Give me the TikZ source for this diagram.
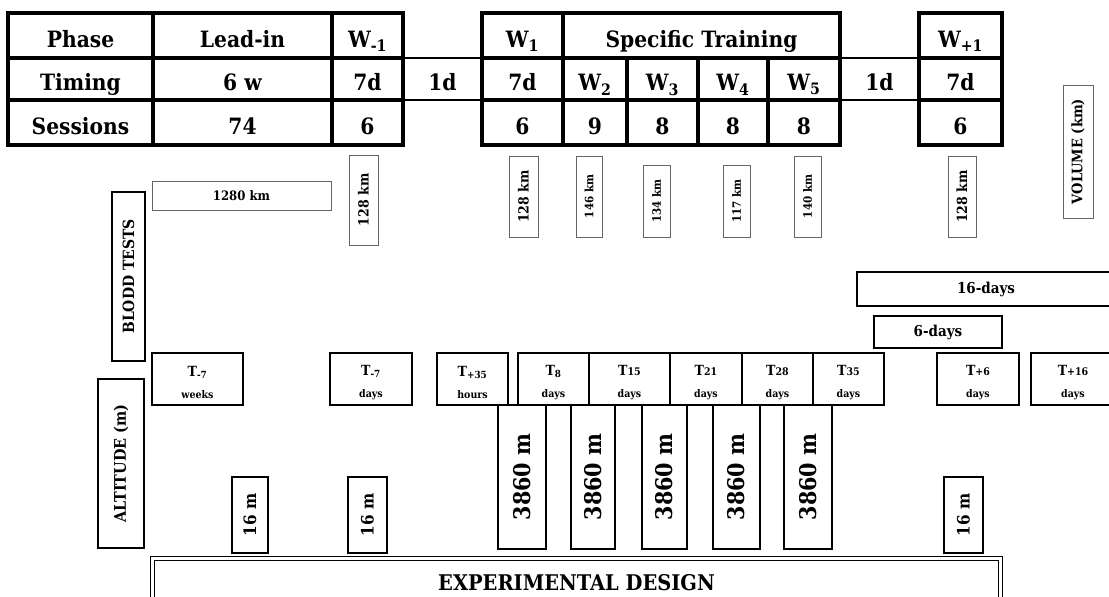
\documentclass[tikz,border=0pt]{standalone}
\usepackage{fontspec}
\setmainfont{DejaVu Serif Condensed}
\usepackage{graphicx}
\newcommand\bxnode[7]{\node[#6, minimum width={#4-#2}, minimum height={#5-#3}] (#1) at ({(#2+#4)/2},{(#3+#5)/2}) {#7};}
\newcommand\rot[1]{\rotatebox{90}{#1}}
\newcommand\dy[1]{{\fontsize{10.5}{22}\selectfont #1}}
\newcommand\ins[1]{{\fontsize{10.5}{22}\selectfont #1}}
\newcommand\strt{\rule{0pt}{17pt}}
\begin{document}
\begin{tikzpicture}[x=1pt,y=-1pt,
  tcell/.style={draw, line width=3.2pt, inner sep=0pt, outer sep=0pt, text height=23pt, text depth=0pt, font=\fontsize{22.5}{26}\selectfont\bfseries},
  thk/.style={draw, line width=2.8pt, inner sep=0pt, outer sep=0pt, font=\fontsize{14}{22}\selectfont\bfseries, align=center},
  tlab/.style={thk},
  per/.style={thk, font=\fontsize{15}{18}\selectfont\bfseries},
  thin/.style={draw=black!60, line width=0.9pt, inner sep=0pt, outer sep=0pt, font=\fontsize{13}{15}\selectfont\bfseries},
  alt/.style={thk, font=\fontsize{23}{26}\selectfont\bfseries},
  sm/.style={thk, font=\fontsize{17}{20}\selectfont\bfseries},
  side/.style={thk, font=\fontsize{15.5}{20}\selectfont\bfseries},
  expbox/.style={draw, double, line width=1.1pt, double distance=2.2pt, inner sep=0pt, outer sep=0pt},
]
\useasboundingbox (0,0) rectangle (1109,597);
% ---- table row 1
\bxnode{ph}{8}{13}{153}{58}{tcell}{Phase}
\bxnode{lead}{153}{13}{332}{58}{tcell}{Lead-in}
\bxnode{wm1}{332}{13}{403}{58}{tcell}{W\textsubscript{-1}}
\bxnode{w1}{482}{13}{563}{58}{tcell}{W\textsubscript{1}}
\bxnode{spec}{563}{13}{840}{58}{tcell}{Specific Training}
\bxnode{wp1}{919}{13}{1002}{58}{tcell}{W\textsubscript{+1}}
% ---- row 2
\bxnode{tim}{8}{58}{153}{100}{tcell}{Timing}
\bxnode{sixw}{153}{58}{332}{100}{tcell}{6 w}
\bxnode{sevA}{332}{58}{403}{100}{tcell}{7d}
\bxnode{oneA}{403}{58}{482}{100}{tcell,line width=2.2pt}{1d}
\bxnode{sevB}{482}{58}{563}{100}{tcell}{7d}
\bxnode{w2}{563}{58}{627}{100}{tcell}{W\textsubscript{2}}
\bxnode{w3}{627}{58}{698}{100}{tcell}{W\textsubscript{3}}
\bxnode{w4}{698}{58}{768}{100}{tcell}{W\textsubscript{4}}
\bxnode{w5}{768}{58}{840}{100}{tcell}{W\textsubscript{5}}
\bxnode{oneB}{840}{58}{919}{100}{tcell,line width=2.2pt}{1d}
\bxnode{sevC}{919}{58}{1002}{100}{tcell}{7d}
% ---- row 3
\bxnode{ses}{8}{100}{153}{145}{tcell}{Sessions}
\bxnode{s74}{153}{100}{332}{145}{tcell}{74}
\bxnode{sA}{332}{100}{403}{145}{tcell}{6}
\bxnode{sB}{482}{100}{563}{145}{tcell}{6}
\bxnode{s9}{563}{100}{627}{145}{tcell}{9}
\bxnode{s8a}{627}{100}{698}{145}{tcell}{8}
\bxnode{s8b}{698}{100}{768}{145}{tcell}{8}
\bxnode{s8c}{768}{100}{840}{145}{tcell}{8}
\bxnode{sC}{919}{100}{1002}{145}{tcell}{6}
% thicker row separators
\draw[line width=4.5pt] (tim.north west) -- (sevA.north east) (sevB.north west) -- (w5.north east) (sevC.north west) -- (sevC.north east);
\draw[line width=4.5pt] (tim.south west) -- (sevA.south east) (sevB.south west) -- (w5.south east) (sevC.south west) -- (sevC.south east);
% ---- volume boxes
\bxnode{k1280}{152}{181}{331}{210}{thin}{1280 km}
\bxnode{kA}{349}{155}{378}{245}{thin,font=\fontsize{14}{16}\selectfont\bfseries}{\rot{128 km}}
\bxnode{kB}{509}{156}{538}{237}{thin,font=\fontsize{14}{16}\selectfont\bfseries}{\rot{128 km}}
\bxnode{kC}{576}{156}{602}{237}{thin,font=\fontsize{11.5}{13}\selectfont\bfseries}{\rot{146 km}}
\bxnode{kD}{643}{165}{670}{237}{thin,font=\fontsize{11.5}{13}\selectfont\bfseries}{\rot{134 km}}
\bxnode{kE}{723}{165}{750}{237}{thin,font=\fontsize{11.5}{13}\selectfont\bfseries}{\rot{117 km}}
\bxnode{kF}{794}{156}{821}{237}{thin,font=\fontsize{11.5}{13}\selectfont\bfseries}{\rot{140 km}}
\bxnode{kG}{948}{156}{976}{237}{thin,font=\fontsize{14}{16}\selectfont\bfseries}{\rot{128 km}}
\bxnode{vol}{1063}{85}{1093}{218}{thin,font=\fontsize{14.5}{16}\selectfont\bfseries}{\rot{VOLUME (km)}}
% ---- side labels
\bxnode{blood}{112}{192}{145}{361}{side}{\rot{BLODD TESTS}}
\bxnode{alt}{98}{379}{144}{548}{side,font=\fontsize{16}{20}\selectfont\bfseries}{\rot{ALTITUDE (m)}}
% ---- blood test periods
\bxnode{d16}{857}{272}{1115}{306}{per}{16-days}
\bxnode{d6}{874}{316}{1002}{348}{per}{6-days}
% ---- blood tests
\bxnode{tA}{152}{353}{243}{405}{tlab}{\strt T\textsubscript{-7}\\\dy{weeks}}
\bxnode{tB}{330}{353}{412}{405}{tlab}{\strt T\textsubscript{-7}\\\dy{days}}
\bxnode{tC}{437}{353}{508}{405}{tlab}{\strt T\textsubscript{+35}\\\dy{hours}}
\bxnode{tD}{518}{353}{589}{405}{tlab}{\strt T\textsubscript{8}\\\dy{days}}
\bxnode{tE}{589}{353}{670}{405}{tlab}{\strt T\ins{15}\\\dy{days}}
\bxnode{tF}{670}{353}{742}{405}{tlab}{\strt T\ins{21}\\\dy{days}}
\bxnode{tG}{742}{353}{813}{405}{tlab}{\strt T\ins{28}\\\dy{days}}
\bxnode{tH}{813}{353}{884}{405}{tlab}{\strt T\ins{35}\\\dy{days}}
\bxnode{tI}{937}{353}{1019}{405}{tlab}{\strt T\ins{+6}\\\dy{days}}
\bxnode{tJ}{1031}{353}{1115}{405}{tlab}{\strt T\ins{+16}\\\dy{days}}
% ---- altitude
\bxnode{mA}{232}{477}{268}{553}{sm}{\rot{16 m}}
\bxnode{mB}{348}{477}{387}{553}{sm}{\rot{16 m}}
\bxnode{mC}{944}{477}{983}{553}{sm}{\rot{16 m}}
\bxnode{hA}{498}{405}{546}{549}{alt}{\rot{3860 m}}
\bxnode{hB}{571}{405}{615}{549}{alt}{\rot{3860 m}}
\bxnode{hC}{642}{405}{687}{549}{alt}{\rot{3860 m}}
\bxnode{hD}{713}{405}{760}{549}{alt}{\rot{3860 m}}
\bxnode{hE}{784}{405}{832}{549}{alt}{\rot{3860 m}}
% ---- experimental design
\bxnode{exp}{152.5}{558.5}{1000.5}{640}{expbox}{}
\node[font=\fontsize{21.6}{26}\selectfont\bfseries, inner sep=0pt] (exptitle) at (576.5,583) {EXPERIMENTAL DESIGN};
\end{tikzpicture}
\end{document}
